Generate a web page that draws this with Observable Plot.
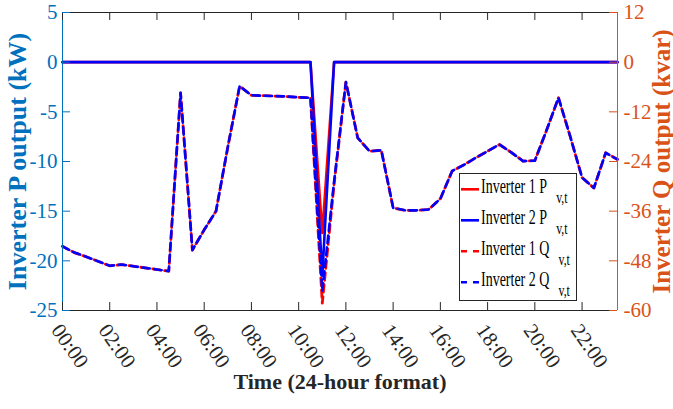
<!DOCTYPE html>
<html><head><meta charset="utf-8">
<script src="https://cdn.jsdelivr.net/npm/d3@7"></script>
<script src="https://cdn.jsdelivr.net/npm/@observablehq/plot@0.6"></script>
<style>
body{margin:0;background:#fff;}
#wrap{position:relative;width:673px;height:409px;overflow:hidden;}
#wrap svg{position:absolute;left:0;top:0;}
</style></head><body><div id="wrap"></div>
<script>
// time of day in hours (half-hour steps)
const hours = [0,0.5,1,1.5,2,2.5,3,3.5,4,4.5,5,5.5,6,6.5,7,7.5,8,8.5,9,9.5,10,10.5,11,11.5,
               12,12.5,13,13.5,14,14.5,15,15.5,16,16.5,17,17.5,18,18.5,19,19.5,20,20.5,21,21.5,22,22.5,23,23.5];
// Inverter active power (kW)
const p1 = [0,0,0,0,0,0,0,0,0,0,0,0,0,0,0,0,0,0,0,0,0,0,-17.2,0,
            0,0,0,0,0,0,0,0,0,0,0,0,0,0,0,0,0,0,0,0,0,0,0,0];
const p2 = [0,0,0,0,0,0,0,0,0,0,0,0,0,0,0,0,0,0,0,0,0,0,-21.5,0,
            0,0,0,0,0,0,0,0,0,0,0,0,0,0,0,0,0,0,0,0,0,0,0,0];
// Inverter reactive power (kvar)
const q1 = [-44.5,-46.0,-47.0,-48.1,-49.2,-48.9,-49.3,-49.7,-50.1,-50.5,-7.4,-45.4,-40.5,-36.0,-20.5,-5.8,-8.0,-8.1,-8.2,-8.3,-8.5,-8.6,-58.2,-29.5,
            -4.8,-18.3,-21.5,-21.3,-35.2,-35.8,-35.8,-35.6,-33.0,-26.3,-24.8,-23.1,-21.5,-19.9,-21.8,-23.9,-23.8,-16.4,-8.6,-18.0,-27.9,-30.4,-21.9,-23.5];
const q2 = [-44.5,-46.0,-47.0,-48.1,-49.2,-48.9,-49.3,-49.7,-50.1,-50.5,-7.4,-45.4,-40.5,-36.0,-20.5,-5.8,-8.0,-8.1,-8.2,-8.3,-8.5,-8.6,-55.3,-28.8,
            -4.8,-18.3,-21.5,-21.3,-35.2,-35.8,-35.8,-35.6,-33.0,-26.3,-24.8,-23.1,-21.5,-19.9,-21.8,-23.9,-23.8,-16.4,-8.6,-18.0,-27.9,-30.4,-21.9,-23.5];

const xTickHours = [0,2,4,6,8,10,12,14,16,18,20,22];
const xTickLabels = ["00:00","02:00","04:00","06:00","08:00","10:00","12:00","14:00","16:00","18:00","20:00","22:00"];
const pTicks = [-25,-20,-15,-10,-5,0,5];
const qTicks = [-60,-48,-36,-24,-12,0,12];
const legendNames = ["Inverter 1 P","Inverter 2 P","Inverter 1 Q","Inverter 2 Q"];
const legendSub = "v,t";
const legendColors = ["#ff0000","#0000ff","#ff0000","#0000ff"];
const legendDashed = [false,false,true,true];

const BLUE = "#0072BD", ORANGE = "#D95319", DARK = "#262626";
const K = 5/12; // kvar -> kW axis mapping (12 kvar at top, -60 at bottom)
const rows = hours.map((h,i)=>({h, p1:p1[i], p2:p2[i], q1:q1[i], q2:q2[i]}));

const chart = Plot.plot({
  width:673, height:409, marginLeft:62, marginRight:56, marginTop:12, marginBottom:99,
  x:{domain:[0,23.5], axis:null},
  y:{domain:[-25,5], axis:null},
  style:{fontFamily:"'Liberation Serif','Times New Roman',serif", background:"white", overflow:"visible"},
  marks:[
    Plot.line(rows,{x:"h",y:"p1",stroke:"#ff0000",strokeWidth:2.6}),
    Plot.line(rows,{x:"h",y:"p2",stroke:"#0000ff",strokeWidth:2.6}),
    Plot.line(rows,{x:"h",y:d=>d.q1*K,stroke:"#ff0000",strokeWidth:2.8,strokeDasharray:"7.5,4.5",strokeDashoffset:1.5}),
    Plot.line(rows,{x:"h",y:d=>d.q2*K,stroke:"#0000ff",strokeWidth:2.6,strokeDasharray:"7.5,4.5"}),
    Plot.ruleY([5],{stroke:DARK}),
    Plot.ruleY([-25],{stroke:DARK}),
    Plot.ruleX([0],{stroke:BLUE}),
    Plot.ruleX([23.5],{stroke:ORANGE}),
    Plot.ruleX(xTickHours,{x:d=>d,y1:-25,y2:-25+0.8,stroke:DARK}),
    Plot.ruleX(xTickHours,{x:d=>d,y1:5,y2:5-0.8,stroke:DARK}),
    Plot.ruleY(pTicks,{y:d=>d,x1:0,x2:0.34,stroke:BLUE}),
    Plot.ruleY(qTicks,{y:d=>d*K,x1:23.5,x2:23.5-0.34,stroke:ORANGE}),
    Plot.axisY(pTicks,{anchor:"left",tickSize:0,tickPadding:5,fontSize:21,color:BLUE,tickFormat:d=>String(d),label:null}),
    Plot.axisY(qTicks.map(v=>v*K),{anchor:"right",tickSize:0,tickPadding:6,fontSize:21,color:ORANGE,tickFormat:d=>String(Math.round(d/K)),label:null}),
    Plot.text(xTickHours,{x:d=>d,frameAnchor:"bottom",text:(d,i)=>xTickLabels[i],rotate:55,textAnchor:"start",lineAnchor:"middle",dx:-6.5,dy:16,fontSize:21,fill:DARK}),
    Plot.text(["Inverter P output (kW)"],{frameAnchor:"left",text:d=>d,rotate:-90,textAnchor:"middle",dx:-45,fontSize:26,fontWeight:"bold",fill:BLUE}),
    Plot.text(["Inverter Q output (kvar)"],{frameAnchor:"right",text:d=>d,rotate:-90,textAnchor:"middle",dx:44,fontSize:25,fontWeight:"bold",fill:ORANGE}),
    Plot.text(["Time (24-hour format)"],{frameAnchor:"bottom",text:d=>d,textAnchor:"middle",dy:78,fontSize:22,fontWeight:"bold",fill:DARK})
  ]
});
document.getElementById("wrap").appendChild(chart);

// legend overlay
const lg = d3.select("#wrap").append("svg").attr("width",673).attr("height",409)
  .style("font-family","'Liberation Serif','Times New Roman',serif");
lg.append("rect").attr("x",459.5).attr("y",173.5).attr("width",117).attr("height",127)
  .attr("fill","white").attr("stroke",DARK).attr("stroke-width",1);
legendNames.forEach((name,i)=>{
  const yb = 193.3 + i*31;
  lg.append("line").attr("x1",461).attr("x2",479).attr("y1",yb-4).attr("y2",yb-4)
    .attr("stroke",legendColors[i]).attr("stroke-width",2.6)
    .attr("stroke-dasharray",legendDashed[i]?"6,6":null);
  const t = lg.append("text").attr("transform",`translate(481,${yb}) scale(0.7,1)`)
    .attr("font-size",20).attr("fill","#000").text(name);
  t.append("tspan").attr("dx",13).attr("dy",9.4).attr("font-size",17).text(legendSub);
});
</script></body></html>
